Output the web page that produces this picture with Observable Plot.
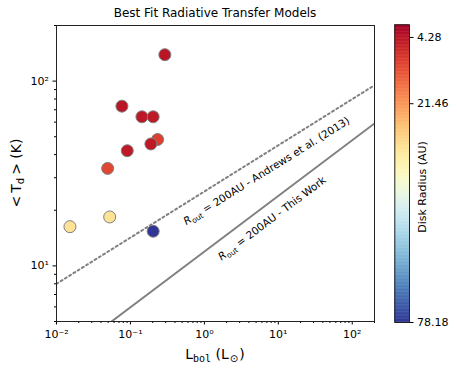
<!DOCTYPE html>
<html><head><meta charset="utf-8">
<script src="https://cdn.jsdelivr.net/npm/d3@7"></script>
<script src="https://cdn.jsdelivr.net/npm/@observablehq/plot@0.6"></script>
<style>
body{margin:0;background:#fff;}
#wrap{position:relative;width:457px;height:370px;font-family:"DejaVu Sans",sans-serif;}
#wrap svg{position:absolute;top:0;overflow:visible;}
</style></head><body><div id="wrap"></div>
<script>
// ---- data ----
const lbol   = [0.292, 0.0767, 0.143, 0.203, 0.233, 0.189, 0.0906, 0.0492, 0.0524, 0.0152, 0.203];
const tdust  = [139, 73.2, 64.1, 64.1, 48.3, 45.7, 42.0, 33.7, 18.4, 16.3, 15.4];
const radius = [4.28, 4.5, 4.8, 5.0, 10.5, 5.0, 5.0, 11.5, 33, 33, 78.18];
const andrewsL = [0.01, 200];
const andrewsT = [8.0, 95];
const thisWorkL = [0.0555, 200];
const thisWorkT = [5, 59];
const xMajorTicks = [0.01, 0.1, 1, 10, 100];
const yMajorTicks = [10, 100];
const cbarTicks = [4.28, 21.46, 78.18];
const cbarDomain = [1, 78.18];

const points = lbol.map((L, i) => ({L, T: tdust[i], R: radius[i]}));
const andrews = andrewsL.map((L, i) => ({L, T: andrewsT[i]}));
const thisWork = thisWorkL.map((L, i) => ({L, T: thisWorkT[i]}));

const xMinor = [], yMinor = [];
for (const dec of [0.01, 0.1, 1, 10, 100]) for (let k = 2; k <= 9; k++) if (k * dec <= 200) xMinor.push(k * dec);
for (const dec of [1, 10, 100]) for (let k = 2; k <= 9; k++) { const v = k * dec; if (v >= 5 && v <= 200) yMinor.push(v); }

const supMap = {"-": "\u207B", "0": "\u2070", "1": "\u00B9", "2": "\u00B2", "3": "\u00B3"};
const pow10 = d => "10" + String(Math.round(Math.log10(d))).split("").map(c => supMap[c]).join("");

const FONT = "DejaVu Sans";
const main = Plot.plot({
  width: 457, height: 370,
  marginLeft: 56, marginRight: 83, marginTop: 25, marginBottom: 49,
  style: {fontFamily: FONT, fontSize: "11px", color: "#000", background: "transparent"},
  x: {type: "log", domain: [0.01, 200]},
  y: {type: "log", domain: [5, 200]},
  color: {type: "linear", scheme: "RdYlBu", domain: cbarDomain},
  marks: [
    Plot.line(andrews, {x: "L", y: "T", stroke: "#808080", strokeWidth: 2, strokeDasharray: "2,3", clip: true}),
    Plot.line(thisWork, {x: "L", y: "T", stroke: "#808080", strokeWidth: 2, clip: true}),
    Plot.dot(points, {x: "L", y: "T", r: 6, fill: "R", fillOpacity: 1, stroke: "#7f7f7f", strokeWidth: 1}),
    Plot.axisX({ticks: xMajorTicks, tickFormat: pow10, tickSize: 3.5, tickPadding: 5, label: null, fontSize: 11}),
    Plot.axisX({ticks: xMinor, tickFormat: () => "", tickSize: 2, label: null}),
    Plot.axisY({ticks: yMajorTicks, tickFormat: pow10, tickSize: 3.5, tickPadding: 4, label: null, fontSize: 11}),
    Plot.axisY({ticks: yMinor, tickFormat: () => "", tickSize: 2, label: null}),
    Plot.frame({stroke: "#222", strokeWidth: 1})
  ]
});
main.style.left = "0px";
document.getElementById("wrap").appendChild(main);

const xs = main.scale("x"), ys = main.scale("y");
const sx = v => xs.apply(v), sy = v => ys.apply(v);
const svg = d3.select(main);

// title
svg.append("text").attr("x", 215).attr("y", 17).attr("text-anchor", "middle")
  .attr("font-family", FONT).attr("font-size", 12).attr("fill", "#000")
  .text("Best Fit Radiative Transfer Models");

// x label
const xl = svg.append("text").attr("x", 215).attr("y", 359).attr("text-anchor", "middle")
  .attr("font-family", FONT).attr("font-size", 14).attr("fill", "#000");
xl.append("tspan").text("L");
xl.append("tspan").attr("font-family", "DejaVu Sans Mono").attr("font-size", 10).attr("dy", 3).text("bol");
xl.append("tspan").attr("dy", -3).text(" (L");
xl.append("tspan").attr("font-size", 10).attr("dy", 3).attr("dx", 1).text("\u2299");
xl.append("tspan").attr("dy", -3).attr("dx", 1).text(")");

// y label
const yl = svg.append("text").attr("transform", "translate(20.5,173) rotate(-90)").attr("text-anchor", "middle")
  .attr("font-family", FONT).attr("font-size", 14).attr("fill", "#000");
yl.append("tspan").text("<");
yl.append("tspan").attr("dx", 3).text("T");
yl.append("tspan").attr("font-size", 10).attr("dy", 3).text("d");
yl.append("tspan").attr("dy", -3).attr("dx", 3).text(">");
yl.append("tspan").text(" (K)");

// line annotations
function annot(line, offL, offT, rest) {
  const a = Math.atan2(sy(line[1].T) - sy(line[0].T), sx(line[1].L) - sx(line[0].L)) * 180 / Math.PI;
  const t = svg.append("text")
    .attr("transform", `translate(${sx(offL)},${sy(offT)}) rotate(${a})`)
    .attr("text-anchor", "middle").attr("dy", "0.35em")
    .attr("font-family", FONT).attr("font-size", 10.5).attr("fill", "#000");
  t.append("tspan").attr("font-style", "italic").text("R");
  t.append("tspan").attr("font-size", 7.5).attr("dy", 2.5).text("out");
  t.append("tspan").attr("dy", -2.5).text(rest);
}
annot(andrews, 7.0, 32.5, " = 200AU - Andrews et al. (2013)");
annot(thisWork, 8.3, 18.0, " = 200AU - This Work");

// ---- colorbar ----
const step = 0.2;
const stops = d3.range(cbarDomain[0], cbarDomain[1], step);
const cbar = Plot.plot({
  width: 72, height: 370,
  marginLeft: 9.3, marginRight: 48, marginTop: 24.3, marginBottom: 48,
  style: {fontFamily: FONT, fontSize: "11px", color: "#000", background: "transparent"},
  x: {domain: [0, 1], axis: null},
  y: {domain: cbarDomain, reverse: true},
  color: {type: "linear", scheme: "RdYlBu", domain: cbarDomain},
  marks: [
    Plot.rect(stops, {x1: 0, x2: 1, y1: d => d, y2: d => Math.min(d + step * 1.6, cbarDomain[1]), fill: d => d, inset: 0}),
    Plot.axisY({anchor: "right", ticks: cbarTicks, tickFormat: d => d.toFixed(2), tickSize: 3.5, tickPadding: 4, label: null, fontSize: 11}),
    Plot.frame({stroke: "#222", strokeWidth: 1})
  ]
});
cbar.style.left = "385px";
document.getElementById("wrap").appendChild(cbar);
d3.select(cbar).append("text").attr("transform", "translate(41,187) rotate(-90)")
  .attr("text-anchor", "middle").attr("font-family", FONT).attr("font-size", 11).attr("fill", "#000")
  .text("Disk Radius (AU)");
</script>
</body></html>
